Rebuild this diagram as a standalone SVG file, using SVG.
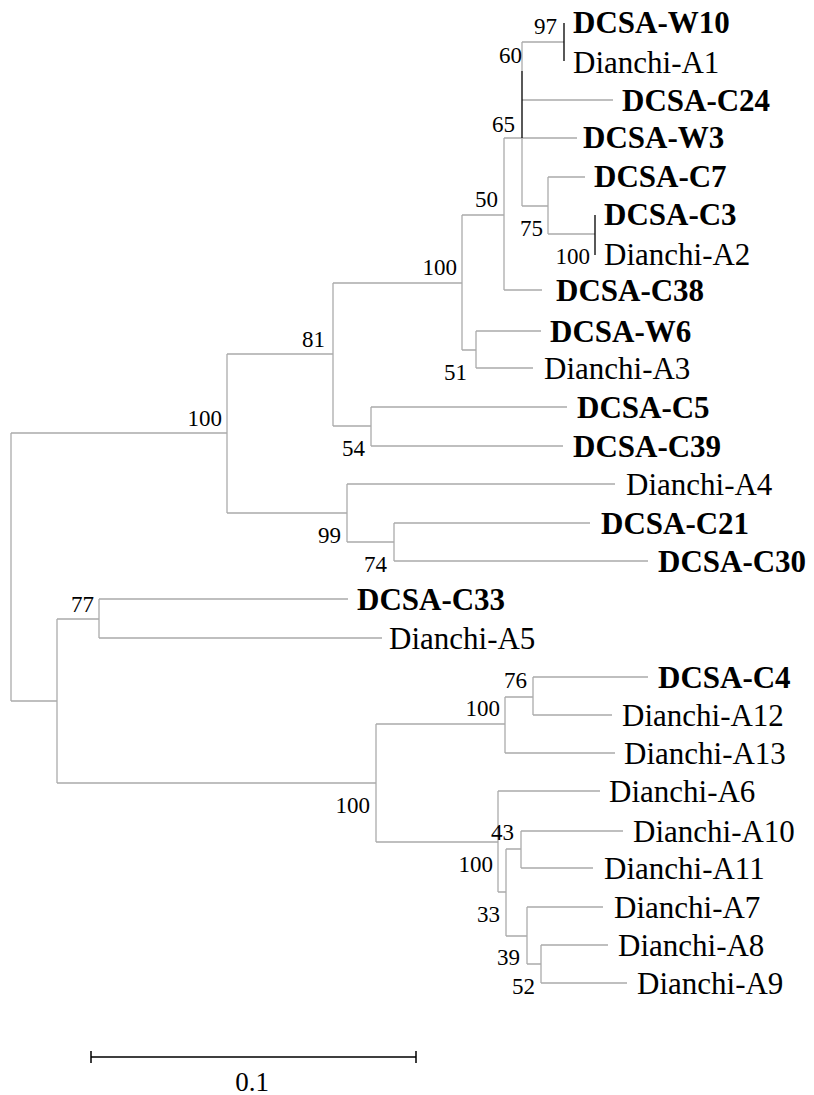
<svg xmlns="http://www.w3.org/2000/svg" width="814" height="1095" viewBox="0 0 814 1095">
<style>
.br{fill:none;stroke:#ababab;stroke-width:1.3}
.bk{fill:none;stroke:#000;stroke-width:1.3}
text{font-family:'Liberation Serif',Tinos,'Times New Roman',Times,'DejaVu Serif',serif;fill:#000}
.lf{font-size:31px}
.b{font-weight:bold}
.bs{font-size:23px;text-anchor:end}
</style>
<rect width="814" height="1095" fill="#fff"/>
<g id="connectors">
<path class="br" d="M11,433V701M11,433H227M11,701H57
M227,354V513M227,354H333M227,513H347
M333,283V426M333,283H462M333,426H371
M462,215V350M462,215H504M462,350H476
M504,138V290M504,138H577M504,290H542
M522,42V71M522,138V206M522,42H564M522,100H613M522,206H548
M548,177V234M548,177H585M548,234H595
M476,331V368M476,331H541M476,368H533
M371,407V446M371,407H567M371,446H563
M347,484V542M347,484H615M347,542H394
M394,523V561M394,523H590M394,561H648
M57,619V783M57,619H99M57,783H376
M99,599V638M99,599H348M99,638H382
M376,724V842M376,724H505M376,842H498
M505,697V753M505,697H533M505,753H615
M533,677V715M533,677H648M533,715H612
M498,791V892M498,791H600M498,892H506
M506,849V936M506,849H521M506,936H527
M521,831V868M521,831H623M521,868H593
M527,907V964M527,907H603M527,964H541
M541,945V983M541,945H608M541,983H627"/>
<path class="bk" d="M522,71V138M564,23V61M595,215V255"/>
</g>
<g id="leaf-DCSA-W10"><text class="lf b" x="573" y="33">DCSA-W10</text></g>
<g id="leaf-Dianchi-A1"><text class="lf" x="573" y="73">Dianchi-A1</text></g>
<g id="leaf-DCSA-C24"><text class="lf b" x="622" y="111">DCSA-C24</text></g>
<g id="leaf-DCSA-W3"><text class="lf b" x="583" y="148">DCSA-W3</text></g>
<g id="leaf-DCSA-C7"><text class="lf b" x="594" y="187">DCSA-C7</text></g>
<g id="leaf-DCSA-C3"><text class="lf b" x="604" y="225">DCSA-C3</text></g>
<g id="leaf-Dianchi-A2"><text class="lf" x="604" y="265">Dianchi-A2</text></g>
<g id="leaf-DCSA-C38"><text class="lf b" x="556" y="301">DCSA-C38</text></g>
<g id="leaf-DCSA-W6"><text class="lf b" x="550" y="342">DCSA-W6</text></g>
<g id="leaf-Dianchi-A3"><text class="lf" x="544" y="379">Dianchi-A3</text></g>
<g id="leaf-DCSA-C5"><text class="lf b" x="577" y="418">DCSA-C5</text></g>
<g id="leaf-DCSA-C39"><text class="lf b" x="573" y="457">DCSA-C39</text></g>
<g id="leaf-Dianchi-A4"><text class="lf" x="626" y="495">Dianchi-A4</text></g>
<g id="leaf-DCSA-C21"><text class="lf b" x="601" y="534">DCSA-C21</text></g>
<g id="leaf-DCSA-C30"><text class="lf b" x="658" y="572">DCSA-C30</text></g>
<g id="leaf-DCSA-C33"><text class="lf b" x="357" y="610">DCSA-C33</text></g>
<g id="leaf-Dianchi-A5"><text class="lf" x="389" y="649">Dianchi-A5</text></g>
<g id="leaf-DCSA-C4"><text class="lf b" x="658" y="688">DCSA-C4</text></g>
<g id="leaf-Dianchi-A12"><text class="lf" x="622" y="726">Dianchi-A12</text></g>
<g id="leaf-Dianchi-A13"><text class="lf" x="624" y="764">Dianchi-A13</text></g>
<g id="leaf-Dianchi-A6"><text class="lf" x="609" y="802">Dianchi-A6</text></g>
<g id="leaf-Dianchi-A10"><text class="lf" x="633" y="842">Dianchi-A10</text></g>
<g id="leaf-Dianchi-A11"><text class="lf" x="604" y="879">Dianchi-A11</text></g>
<g id="leaf-Dianchi-A7"><text class="lf" x="614" y="918">Dianchi-A7</text></g>
<g id="leaf-Dianchi-A8"><text class="lf" x="618" y="956">Dianchi-A8</text></g>
<g id="leaf-Dianchi-A9"><text class="lf" x="637" y="994">Dianchi-A9</text></g>
<g id="node-97"><text class="bs" x="557" y="34">97</text></g>
<g id="node-60"><text class="bs" x="522" y="63">60</text></g>
<g id="node-65"><text class="bs" x="515" y="132">65</text></g>
<g id="node-50"><text class="bs" x="498" y="207">50</text></g>
<g id="node-75"><text class="bs" x="543" y="236">75</text></g>
<g id="node-100a"><text class="bs" x="590" y="264">100</text></g>
<g id="node-100b"><text class="bs" x="457" y="275">100</text></g>
<g id="node-81"><text class="bs" x="325" y="347">81</text></g>
<g id="node-51"><text class="bs" x="467" y="380">51</text></g>
<g id="node-100c"><text class="bs" x="222" y="426">100</text></g>
<g id="node-54"><text class="bs" x="365" y="456">54</text></g>
<g id="node-99"><text class="bs" x="341" y="543">99</text></g>
<g id="node-74"><text class="bs" x="387" y="572">74</text></g>
<g id="node-77"><text class="bs" x="94" y="612">77</text></g>
<g id="node-76"><text class="bs" x="527" y="688">76</text></g>
<g id="node-100d"><text class="bs" x="500" y="716">100</text></g>
<g id="node-100e"><text class="bs" x="370" y="813">100</text></g>
<g id="node-43"><text class="bs" x="514" y="840">43</text></g>
<g id="node-100f"><text class="bs" x="493" y="872">100</text></g>
<g id="node-33"><text class="bs" x="500" y="922">33</text></g>
<g id="node-39"><text class="bs" x="520" y="965">39</text></g>
<g id="node-52"><text class="bs" x="535" y="994">52</text></g>
<g id="scale-bar">
<path d="M91,1057H416M91,1051V1063M416,1051V1063" fill="none" stroke="#000" stroke-width="1.5"/>
<text x="252" y="1091" text-anchor="middle" font-size="27">0.1</text>
</g>
</svg>
